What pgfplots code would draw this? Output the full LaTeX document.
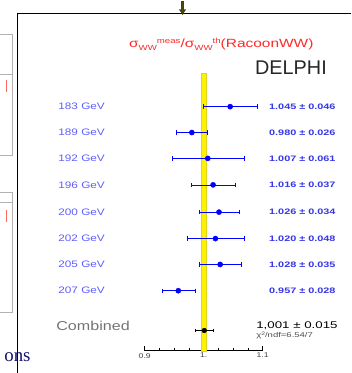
\documentclass[border=0pt]{standalone}
\usepackage{pgfplots}
\pgfplotsset{compat=1.18}
\usetikzlibrary{arrows.meta}
\usepackage{fontspec}
\setmainfont{Liberation Sans}
\newfontfamily\labfont{Liberation Sans}[FakeStretch=1.25]
\newfontfamily\valfont{Liberation Sans}[FakeStretch=1.37]
\newfontfamily\titfont{Liberation Sans}[FakeStretch=1.3]
\newfontfamily\serfont{Liberation Serif}
\definecolor{labblue}{RGB}{95,95,250}
\definecolor{valblue}{RGB}{55,55,230}
\definecolor{titred}{RGB}{255,40,40}
\definecolor{arrowol}{RGB}{70,70,10}
\definecolor{navy}{RGB}{20,20,110}
\newcommand{\lab}[1]{{\labfont\fontsize{9.5}{10}\selectfont #1}}
\newcommand{\val}[1]{{\valfont\bfseries\fontsize{8}{9}\selectfont #1}}
\tikzset{
  labnode/.style={anchor=west, inner sep=0pt, text=labblue},
  valnode/.style={anchor=east, inner sep=0pt, text=valblue},
}
\begin{document}
\begin{tikzpicture}
\begin{axis}[
  scale only axis, width=118.5bp, height=279bp,
  xmin=0.9, xmax=1.1, ymin=0, ymax=279,
  axis x line=bottom, axis y line=none,
  axis line style={-, black, line width=0.6pt},
  clip=false,
  xtick={0.9,1,1.1}, xticklabels={0.9,1.,1.1},
  minor x tick num=3,
  tick align=inside,
  major tick length=5bp, minor tick length=3bp,
  tick style={black, line width=0.5pt},
  xticklabel style={font=\labfont\fontsize{7}{8}\selectfont, text=black!75, yshift=1bp},
  /pgf/number format/assume math mode=true,
]
% bounding box of the whole picture
\path (axis cs:0.65527,-22) rectangle (axis cs:1.24937,351);
% left-side remnants of neighbouring figures
\draw[black!30, line width=0.9pt] (axis cs:0.65527,318) -- (axis cs:0.67553,318) -- (axis cs:0.67553,196) -- (axis cs:0.65527,196);
\draw[black!30, line width=0.7pt] (axis cs:0.65527,278) -- (axis cs:0.67553,278);
\draw[black!30, line width=0.9pt] (axis cs:0.65527,159) -- (axis cs:0.67553,159) -- (axis cs:0.67553,38) -- (axis cs:0.65527,38);
\draw[black!30, line width=0.7pt] (axis cs:0.65527,149) -- (axis cs:0.67553,149);
\draw[red!60, line width=0.6pt] (axis cs:0.6654,272) -- (axis cs:0.6654,260);
\draw[red!60, line width=0.6pt] (axis cs:0.6654,141) -- (axis cs:0.6654,129);
% frame
\draw[black, line width=0.8pt] (axis cs:0.68397,-22) -- (axis cs:0.68397,339) -- (axis cs:1.24937,339);
\draw[arrowol, line width=3bp, -{Latex[length=6bp,width=8bp]}] (axis cs:0.96414,351) -- (axis cs:0.96414,337);
\node[anchor=base west, inner sep=0pt, text=navy] at (axis cs:0.6616,-11) {\serfont\fontsize{19}{20}\selectfont ons};
% theory band
\addplot[fill=yellow, draw=yellow!85!black, line width=0.3pt] coordinates {(0.995,0) (1.005,0) (1.005,279) (0.995,279)} -- cycle;
% measurements
\addplot[only marks, mark=*, mark size=2.6bp, color=blue,
  error bars/.cd, x dir=both, x explicit,
  error bar style={blue, line width=0.5pt},
  error mark options={rotate=90, mark size=2.2bp, blue}]
coordinates {
 (1.045,245.3) +- (0.046,0)
 (0.980,219.3) +- (0.026,0)
 (1.007,193.3) +- (0.061,0)
 (1.016,166.7) +- (0.037,0)
 (1.026,139.3) +- (0.034,0)
 (1.020,112.7) +- (0.048,0)
 (1.028,86.7) +- (0.035,0)
 (0.957,60.3) +- (0.028,0)
};
\addplot[only marks, mark=*, mark size=2.4bp, color=black,
  error bars/.cd, x dir=both, x explicit,
  error bar style={black, line width=0.5pt},
  error mark options={rotate=90, mark size=1.8bp, black}]
coordinates {(1.001,20.3) +- (0.015,0)};
% row labels
\node[labnode] at (axis cs:0.7532,245.3) {\lab{183 GeV}};
\node[labnode] at (axis cs:0.7532,219.3) {\lab{189 GeV}};
\node[labnode] at (axis cs:0.7532,193.3) {\lab{192 GeV}};
\node[labnode] at (axis cs:0.7532,166.7) {\lab{196 GeV}};
\node[labnode] at (axis cs:0.7532,139.3) {\lab{200 GeV}};
\node[labnode] at (axis cs:0.7532,112.7) {\lab{202 GeV}};
\node[labnode] at (axis cs:0.7532,86.7) {\lab{205 GeV}};
\node[labnode] at (axis cs:0.7532,60.3) {\lab{207 GeV}};
\node[valnode] at (axis cs:1.22405,245.3) {\val{1.045 ± 0.046}};
\node[valnode] at (axis cs:1.22405,219.3) {\val{0.980 ± 0.026}};
\node[valnode] at (axis cs:1.22405,193.3) {\val{1.007 ± 0.061}};
\node[valnode] at (axis cs:1.22405,166.7) {\val{1.016 ± 0.037}};
\node[valnode] at (axis cs:1.22405,139.3) {\val{1.026 ± 0.034}};
\node[valnode] at (axis cs:1.22405,112.7) {\val{1.020 ± 0.048}};
\node[valnode] at (axis cs:1.22405,86.7) {\val{1.028 ± 0.035}};
\node[valnode] at (axis cs:1.22405,60.3) {\val{0.957 ± 0.028}};
% combined
\node[anchor=west, inner sep=0pt, text=black!55] at (axis cs:0.7498,25.3) {\labfont\fontsize{13}{14}\selectfont Combined};
\node[anchor=west, inner sep=0pt, text=black] at (axis cs:1.0890,25.3) {\valfont\fontsize{9.8}{11}\selectfont 1,001 ± 0.015};
\node[anchor=west, inner sep=0pt, text=black!70] at (axis cs:1.0890,15.3) {\valfont\fontsize{7}{8}\selectfont χ\raisebox{2.5pt}{\fontsize{5}{5}\selectfont 2}/ndf=6.54/7};
% title
\node[inner sep=0pt, text=titred] at (axis cs:1.02996,308) {\titfont\fontsize{12}{13}\selectfont σ\raisebox{-2.5pt}{\fontsize{7.5}{8}\selectfont WW}\raisebox{4pt}{\fontsize{7.5}{8}\selectfont meas}/σ\raisebox{-2.5pt}{\fontsize{7.5}{8}\selectfont WW}\raisebox{4pt}{\fontsize{7.5}{8}\selectfont th}(RacoonWW)};
\node[inner sep=0pt, text=black!85] at (axis cs:1.1481,284) {\fontsize{20}{21}\selectfont DELPHI};
\end{axis}
\end{tikzpicture}
\end{document}
